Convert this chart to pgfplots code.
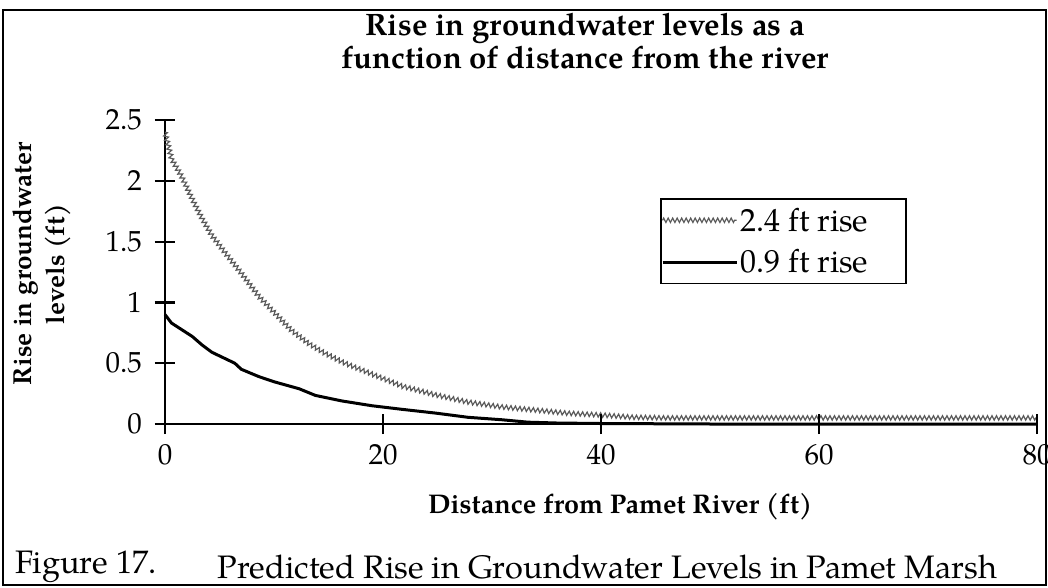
\documentclass[border=0pt]{standalone}
\usepackage{pgfplots}
\pgfplotsset{compat=1.18}
\usepackage{fontspec}
\setmainfont{TeX Gyre Pagella}
\usetikzlibrary{decorations.pathmorphing}
\begin{document}
\begin{tikzpicture}
\begin{axis}[
  scale only axis, width=872pt, height=304pt,
  xmin=0, xmax=80, ymin=0, ymax=2.5,
  axis x line=bottom, axis y line=left, axis line style={-, line width=2.5pt},
  xtick={0,20,40,60,80}, ytick={0,0.5,1,1.5,2,2.5},
  yticklabels={0,0.5,1,1.5,2,2.5},
  tick align=center,
  major tick length=20pt,
  xtick style={draw=black, line width=2.2pt},
  ytick style={draw=black, line width=2.2pt},
  clip=false,
  unbounded coords=jump,
  /pgf/number format/assume math mode=true,
  tick label style={font=\fontsize{29}{31}\selectfont},
  xticklabel style={anchor=north, inner sep=0pt, yshift=-10pt},
  yticklabel style={anchor=east, inner sep=0pt, xshift=-13pt},
  xlabel={Distance from Pamet River (ft)},
  xlabel style={font=\bfseries\fontsize{27}{29}\selectfont, at={(axis description cs:0.522,-0.273)}, anchor=center},
  ylabel={Rise in groundwater\\levels (ft)},
  ylabel style={font=\bfseries\fontsize{26}{33}\selectfont, align=center, at={(axis description cs:-0.1416,0.526)}, anchor=center},
  legend style={at={(rel axis cs:0.568,0.743)}, anchor=north west, draw=black, line width=1.5pt,
    font=\fontsize{32}{34}\selectfont, inner xsep=0pt, inner ysep=7pt, row sep=13pt},
  legend cell align=left,
  legend image code/.code={\draw[#1] (-4pt,0pt) -- (70pt,0pt);},
]
\addplot[color=black!65, line width=1.2pt, decorate, decoration={zigzag, segment length=4.5pt, amplitude=2.2pt}] coordinates {
(0,2.40) (0.6,2.18) (1.5,2.04) (2.5,1.85) (3.4,1.69) (4.3,1.55) (5.5,1.41) (7.0,1.24)
(8.6,1.05) (10.1,0.91) (11.6,0.77) (13.2,0.66) (14.7,0.58) (16.5,0.50) (19.0,0.41)
(21.8,0.31) (24.8,0.24) (27.8,0.18) (30.9,0.14) (33.9,0.115) (37,0.088) (40,0.074)
(43,0.055) (46,0.05) (50,0.05) (55,0.05) (60,0.05) (65,0.05) (70,0.05) (75,0.05) (80,0.05)
};
\addlegendentry{2.4 ft rise\hspace*{36pt}}
\addplot[black, line width=3pt] coordinates {
(0,0.90) (0.6,0.83) (2.5,0.72) (3.4,0.65) (4.3,0.59) (6.4,0.50) (7.0,0.45) (8.6,0.39)
(10.1,0.345) (12.3,0.29) (13.8,0.235) (16.2,0.19) (19.0,0.15) (21.8,0.12) (24.8,0.09)
(27.8,0.055) (30.9,0.035) (33.3,0.015) (36,0.008) (40,0.004) (45,0.002) (50,0) (80,0)
};
\addlegendentry{0.9 ft rise\hspace*{36pt}}
% tick marks crossing the axes
\addplot[black, line width=2.2pt, forget plot, line cap=butt] coordinates {
(0,-0.082) (0,0.082) (nan,nan)
(20,-0.082) (20,0.082) (nan,nan)
(40,-0.082) (40,0.082) (nan,nan)
(60,-0.082) (60,0.082) (nan,nan)
(80,-0.082) (80,0.082) (nan,nan)
(-0.92,0) (0.92,0) (nan,nan)
(-0.92,0.5) (0.92,0.5) (nan,nan)
(-0.92,1) (0.92,1) (nan,nan)
(-0.92,1.5) (0.92,1.5) (nan,nan)
(-0.92,2) (0.92,2) (nan,nan)
(-0.92,2.5) (0.92,2.5)
};
\draw[line width=2.5pt] (rel axis cs:-0.18578,1.36184) rectangle (rel axis cs:1.01032,-0.52961);
\node[font=\bfseries\fontsize{31}{33}\selectfont, align=center] at (rel axis cs:0.4817,1.25822) {Rise in groundwater levels as a\\function of distance from the river};
\node[font=\fontsize{32.5}{35}\selectfont, anchor=west] at (rel axis cs:-0.17546,-0.47039) {Figure 17.};
\node[font=\fontsize{32.5}{35}\selectfont, anchor=west] at (rel axis cs:0.05619,-0.47039) {Predicted Rise in Groundwater Levels in Pamet Marsh};
\coordinate (bbsw) at (rel axis cs:-0.18922,-0.53947);
\coordinate (bbne) at (rel axis cs:1.01261,1.39474);
\end{axis}
\pgfresetboundingbox
\path[use as bounding box] (bbsw) rectangle (bbne);
\end{tikzpicture}
\end{document}
